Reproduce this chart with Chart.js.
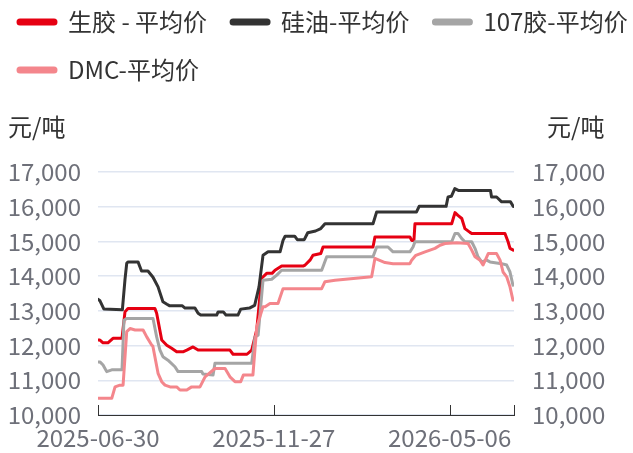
<!DOCTYPE html>
<html>
<head>
<meta charset="utf-8">
<script src="https://cdn.jsdelivr.net/npm/chart.js@4.4.1/dist/chart.umd.min.js"></script>
<style>
  html, body { margin: 0; padding: 0; background: #fff; overflow: hidden; width: 633px; height: 453px; }
  #wrap { position: relative; width: 633px; height: 453px; overflow: hidden; }
  #priceChart { position: absolute; left: -6px; top: -14px; }
</style>
</head>
<body>
<div id="wrap"><canvas id="priceChart" width="686" height="467"></canvas></div>
<script>
// x = trading-day index, y = 元/吨
const seriesNames = ['生胶 - 平均价', '硅油-平均价', '107胶-平均价', 'DMC-平均价'];
const seriesColors = ['#E60012', '#333333', '#A5A5A5', '#F4868C'];

const xTickIndex = [0, 101, 202];
const xTickLabels = ['2025-06-30', '2025-11-27', '2026-05-06'];
const xMax = 239;

const rawRubber = [
    [0, 12160], [1.1, 12160], [2.9, 12080], [5.7, 12080], [8.6, 12210], [13.8, 12210],
    [15.5, 12970], [17.2, 13070], [32.7, 13070], [33.7, 12930], [36.6, 12160], [39.5, 12010],
    [42.3, 11920], [45.2, 11820], [48.8, 11820], [51, 11870], [54.6, 11960], [57.5, 11870],
    [75.8, 11870], [77.6, 11750], [85.6, 11750], [88.3, 11870], [91.2, 12450], [94, 13940],
    [96.9, 14080], [100, 14080], [101.7, 14170], [105.5, 14290], [117.8, 14290], [119, 14320],
    [121.8, 14460], [123.5, 14600], [128, 14650], [129.3, 14840], [158, 14840], [159.1, 15130],
    [179.2, 15130], [180.2, 15030], [181.5, 15030], [182.1, 15510], [203.2, 15510], [205.1, 15830],
    [206.8, 15750], [209, 15660], [210.8, 15370], [213.7, 15260], [214.7, 15230], [233.8, 15230],
    [235.6, 14990], [236.7, 14800], [238.6, 14750]
];

const siliconeOil = [
    [0, 13330], [1, 13300], [3.4, 13050], [14, 13030], [15.5, 13900], [16.5, 14370], [17.2, 14410],
    [23, 14410], [25, 14150], [28.7, 14150], [31.6, 13970], [34.5, 13690], [37.3, 13260],
    [39.6, 13190], [41, 13150], [48.3, 13150], [50, 13080], [55.7, 13080], [57.5, 12930],
    [59, 12880], [68.2, 12880], [69, 12970], [72, 12970], [73.5, 12880], [80.4, 12880],
    [82, 13050], [87, 13080], [90, 13160], [92.5, 13690], [94.8, 14600], [97.7, 14700],
    [104.6, 14700], [106.3, 15030], [107.5, 15150], [113, 15150], [114.5, 15050], [118.5, 15050],
    [120.5, 15250], [125, 15300], [128, 15370], [130.4, 15510], [158, 15510], [160.1, 15850],
    [183, 15850], [184.5, 16010], [200, 16010], [201.1, 16280], [203, 16300], [205, 16520],
    [207, 16470], [225.5, 16470], [226.1, 16280], [229, 16280], [231.9, 16140], [237, 16140],
    [238.6, 16010]
];

const gum107 = [
    [0, 11530], [1.1, 11530], [2.9, 11440], [5, 11250], [7.9, 11300], [13.8, 11300], [14.9, 12730],
    [16.5, 12780], [31.6, 12780], [33.7, 12250], [35.6, 11870], [37.3, 11680], [40.2, 11580],
    [44.2, 11390], [46, 11250], [59.6, 11250], [60.3, 11180], [66.1, 11150], [67.2, 11490],
    [88.3, 11490], [90.2, 12250], [92, 12300], [94.8, 13880], [99.8, 13910], [102.7, 14030],
    [105.5, 14170], [128.5, 14170], [131.4, 14560], [158, 14560], [160.1, 14840], [166.6, 14840],
    [169.5, 14700], [179.2, 14700], [181, 14840], [182.1, 14990], [203.2, 14990], [205.1, 15230],
    [206.8, 15230], [209, 15080], [210.8, 14990], [214.7, 14990], [216.6, 14800], [218.3, 14560],
    [220.4, 14410], [223.3, 14460], [225.2, 14410], [231.9, 14360], [234.8, 14320], [236.7, 14120],
    [238.4, 13740]
];

const dmc = [
    [0, 10480], [7.9, 10480], [9.8, 10810], [12.6, 10860], [14.4, 10860], [16.5, 12400],
    [18.4, 12490], [21.3, 12450], [25.9, 12450], [28, 12250], [30.9, 12010], [31.5, 11990],
    [34.5, 11200], [36.6, 10960], [38.5, 10860], [41.4, 10810], [45.2, 10810], [47.1, 10720],
    [51, 10720], [53.8, 10810], [58.6, 10810], [61.5, 11100], [67.2, 11340], [73, 11340],
    [75.8, 11100], [78.7, 10960], [82, 10960], [83.5, 11150], [89, 11150], [91.2, 12540],
    [94.8, 13120], [96, 13120], [98.8, 13210], [103.4, 13210], [106.3, 13640], [128.5, 13640],
    [130.4, 13840], [136.2, 13880], [157.2, 13980], [159.1, 14510], [164.9, 14390], [169.5, 14360],
    [179.2, 14360], [180.2, 14460], [182.6, 14600], [187.9, 14700], [193.6, 14800], [196.5, 14890],
    [199.4, 14940], [206.1, 14960], [212.6, 14940], [214.7, 14750], [216.6, 14560], [219.5, 14460],
    [221.2, 14320], [224.2, 14650], [229, 14650], [231, 14460], [232.7, 14120], [234.8, 13980],
    [236.7, 13690], [238.4, 13310]
];

const allSeries = [rawRubber, siliconeOil, gum107, dmc];

const fontFamily = '"Noto Sans CJK SC", "Noto Sans", sans-serif';
Chart.defaults.font.family = fontFamily;

// legend gets a fixed height so the plot starts where the reference does
const legendHeight = {
    id: 'legendHeight',
    beforeInit(chart) {
        const fit = chart.legend.fit;
        chart.legend.fit = function () {
            fit.bind(chart.legend)();
            this.height = 186;
        };
    }
};

// unit labels above both y axes and inside tick marks on the x axis
const axisExtras = {
    id: 'axisExtras',
    afterDraw(chart) {
        const ctx = chart.ctx;
        const x = chart.scales.x;
        const area = chart.chartArea;
        ctx.save();
        ctx.fillStyle = '#333';
        ctx.font = '24px ' + fontFamily;
        ctx.textBaseline = 'middle';
        ctx.textAlign = 'left';
        ctx.fillText('元/吨', 14, 141);
        ctx.fillText('元/吨', 553, 141);

        ctx.strokeStyle = '#333';
        ctx.lineWidth = 1;
        const marks = xTickIndex.concat([xMax]);
        marks.forEach(v => {
            const px = Math.round(x.getPixelForValue(v)) + 0.5;
            ctx.beginPath();
            ctx.moveTo(px, area.bottom - 10);
            ctx.lineTo(px, area.bottom);
            ctx.stroke();
        });
        ctx.restore();
    }
};

const datasets = allSeries.map((series, i) => ({
    label: seriesNames[i],
    data: series.map(p => ({ x: p[0], y: p[1] })),
    borderColor: seriesColors[i],
    backgroundColor: seriesColors[i],
    borderWidth: 3,
    pointRadius: 0,
    tension: 0,
    borderJoinStyle: 'round',
    borderCapStyle: 'round',
    yAxisID: 'y',
    order: 4 - i
}));

const ctx = document.getElementById('priceChart');

new Chart(ctx, {
    type: 'line',
    data: { datasets: datasets },
    plugins: [legendHeight, axisExtras],
    options: {
        responsive: false,
        devicePixelRatio: 1,
        animation: false,
        layout: { padding: 0 },
        plugins: {
            tooltip: { enabled: false },
            legend: {
                position: 'top',
                align: 'start',
                labels: {
                    boxWidth: 38,
                    boxHeight: 4,
                    padding: 24,
                    color: '#333',
                    useBorderRadius: true,
                    borderRadius: 2,
                    font: { size: 24, family: fontFamily },
                    sort: (a, b) => a.datasetIndex - b.datasetIndex
                }
            }
        },
        scales: {
            x: {
                type: 'linear',
                min: 0,
                max: xMax,
                afterBuildTicks: scale => {
                    scale.ticks = xTickIndex.map(v => ({ value: v }));
                },
                afterFit: scale => { scale.height = 38; },
                ticks: {
                    autoSkip: false,
                    maxRotation: 0,
                    padding: 8,
                    color: '#6E7079',
                    font: { size: 24 },
                    callback: (value) => {
                        const k = xTickIndex.indexOf(value);
                        return k >= 0 ? xTickLabels[k] : '';
                    }
                },
                grid: { drawOnChartArea: false, drawTicks: false },
                border: { display: true, color: '#333', width: 1 }
            },
            y: {
                position: 'left',
                min: 10000,
                max: 17000,
                afterFit: scale => { scale.width = 104; },
                ticks: {
                    stepSize: 1000,
                    padding: 17,
                    color: '#6E7079',
                    font: { size: 24 },
                    callback: v => v.toLocaleString('en-US')
                },
                grid: { color: '#E0E6F1', lineWidth: 1.5, drawTicks: false },
                border: { display: false }
            },
            y1: {
                position: 'right',
                min: 10000,
                max: 17000,
                afterFit: scale => { scale.width = 166; },
                ticks: {
                    stepSize: 1000,
                    padding: 18,
                    color: '#6E7079',
                    font: { size: 24 },
                    callback: v => v.toLocaleString('en-US')
                },
                grid: { drawOnChartArea: false, drawTicks: false },
                border: { display: false }
            }
        }
    }
});
</script>
</body>
</html>
